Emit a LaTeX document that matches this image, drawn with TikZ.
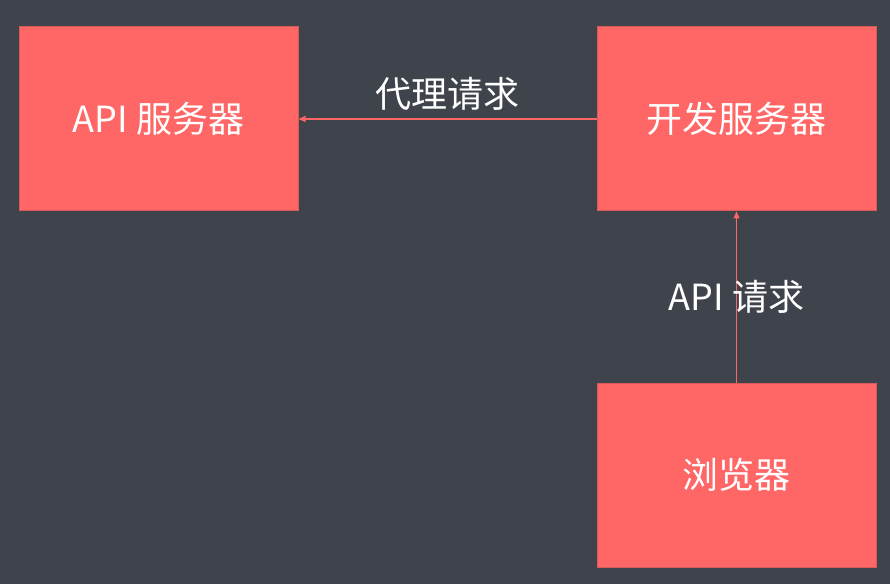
\documentclass[tikz,border=0pt]{standalone}
\usepackage{fontspec}
\setmainfont{Noto Sans CJK SC}
\usetikzlibrary{arrows.meta, positioning}
\definecolor{bggray}{HTML}{3F434C}
\definecolor{coral}{HTML}{FF6666}
\definecolor{coraledge}{HTML}{D95A5A}

\begin{document}
\begin{tikzpicture}[x=1pt, y=1pt,
    server/.style={draw=coraledge, line width=1pt, fill=coral, minimum width=279pt,
        minimum height=184pt, text=white, font=\fontsize{36}{42}\selectfont},
    link/.style={draw=coral, line width=1.2pt, -{Triangle[length=7pt, width=6pt]}},
    linklabel/.style={text=white, font=\fontsize{36}{42}\selectfont}]
    % Background
    \fill[bggray] (0,0) rectangle (890,584);
    \useasboundingbox (0,0) rectangle (890,584);
    % Servers
    \node[server] (api) at (158.5, 465) {API 服务器};
    \node[server, right=298pt of api] (dev) {开发服务器};
    \node[server, below=171pt of dev] (browser) {浏览器};
    % Requests
    \draw[link] (dev) -- node[linklabel, above=5pt] {代理请求} (api);
    \draw[link] (browser) -- node[linklabel] {API 请求} (dev);
\end{tikzpicture}
\end{document}
